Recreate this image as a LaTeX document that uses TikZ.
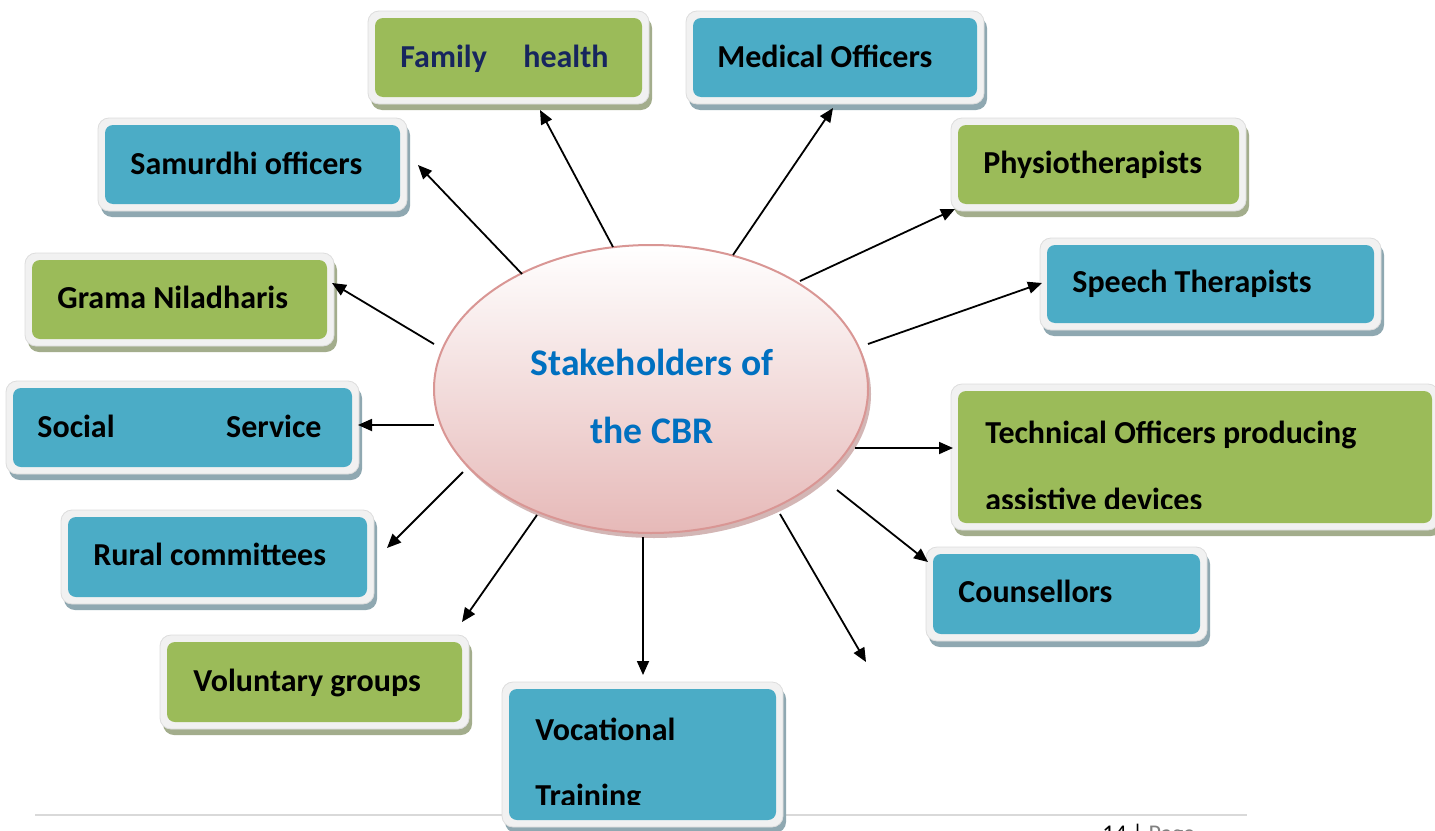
\documentclass[tikz,border=0pt]{standalone}
\usepackage{fontspec}
\setmainfont{Carlito}
\usetikzlibrary{fit,arrows.meta,shadows,calc,shapes.geometric}
\definecolor{grn}{HTML}{9BBB59}
\definecolor{blu}{HTML}{4BACC6}
\definecolor{grnsh}{HTML}{A3AD8C}
\definecolor{blush}{HTML}{8FA8B1}
\definecolor{rim}{HTML}{F1F1F1}
\definecolor{rimedge}{HTML}{DDDDDD}
\definecolor{navy}{HTML}{17255E}
\definecolor{cbrblue}{HTML}{0070C0}
\definecolor{pinkb}{HTML}{D99694}
\definecolor{pinkf}{HTML}{E6B9B8}
\definecolor{pinksh}{HTML}{C9A4A3}
\definecolor{rule}{HTML}{D9D9D9}
\newcommand\stkbox[7]{%
  \fill[#7, rounded corners=5.5pt] ({#2-7+3},{#3-7+6}) rectangle ({#4+7+3},{#5+7+6});
  \filldraw[fill=rim, draw=rimedge, line width=0.4pt, rounded corners=5.5pt] ({#2-7},{#3-7}) rectangle ({#4+7},{#5+7});
  \node[fit={(#2,#3) (#4,#5)}, inner sep=0pt, fill=#6, rounded corners=4pt] (#1) {};
}
\tikzset{
  lbl/.style={anchor=base west, inner sep=0pt, font=\bfseries\fontsize{16pt}{19pt}\selectfont},
  arr/.style={line width=0.9pt, -{Triangle[length=7pt,width=6pt]}},
}
\begin{document}
\begin{tikzpicture}[x=0.5pt,y=-0.5pt]
\clip (0,0) rectangle (1435,830);
\fill[white] (0,0) rectangle (1435,830);
% bottom rule
\coordinate (ruleL) at (35,815);
\coordinate (ruleR) at (1247,815);
\draw[rule, line width=1pt] (ruleL) -- (ruleR);
\node[anchor=base west, inner sep=0pt, font=\fontsize{12pt}{14pt}\selectfont] (pg) at (1102,841) {14 | \textcolor{gray}{Page}};

% boxes
\stkbox{fam}{375}{18}{642}{97}{grn}{grnsh}
\stkbox{med}{693}{18}{977}{97}{blu}{blush}
\stkbox{sam}{105}{125}{400}{204}{blu}{blush}
\stkbox{phy}{958}{125}{1239}{204}{grn}{grnsh}
\stkbox{gra}{32}{260}{327}{339}{grn}{grnsh}
\stkbox{spe}{1047}{245}{1374}{323}{blu}{blush}
\stkbox{soc}{13}{388}{352}{467}{blu}{blush}
\stkbox{tec}{958}{391}{1432}{523}{grn}{grnsh}
\stkbox{rur}{68}{517}{367}{597}{blu}{blush}
\stkbox{cou}{933}{554}{1200}{634}{blu}{blush}
\stkbox{vol}{167}{642}{462}{722}{grn}{grnsh}
\stkbox{voc}{509}{689}{776}{820}{blu}{blush}

% labels
\node[lbl, text=navy] (famA) at (400,67) {Family};
\node[lbl, text=navy] (famB) at (523,67) {health};
\node[lbl] (medT) at (717,67) {Medical Officers};
\node[lbl] (samT) at (130,174) {Samurdhi officers};
\node[lbl] (phyT) at (983,173) {Physiotherapists};
\node[lbl] (graT) at (57,308) {Grama Niladharis};
\node[lbl] (speT) at (1072,292) {Speech Therapists};
\node[lbl] (socA) at (37,437) {Social};
\node[lbl, anchor=base east] (socB) at (322,437) {Service};
\node[lbl] (tecA) at (985,443) {Technical Officers producing};
\begin{scope}
\clip (958,391) rectangle (1432,508);
\node[lbl] (tecB) at (985,510) {assistive devices};
\end{scope}
\node[lbl] (rurT) at (93,565) {Rural committees};
\node[lbl] (couT) at (958,602) {Counsellors};
\node[lbl] (volT) at (193,691) {Voluntary groups};
\node[lbl] (vocA) at (535,740) {Vocational};
\begin{scope}
\clip (509,689) rectangle (776,804);
\node[lbl] (vocB) at (535,806) {Training};
\end{scope}

% central ellipse
\node[ellipse, minimum width=217pt, minimum height=144pt, inner sep=0pt,
      draw=pinkb, line width=1pt, top color=white, bottom color=pinkf,
      drop shadow={shadow xshift=1.5pt, shadow yshift=-2.5pt, fill=pinksh, opacity=0.8}] (cbr) at (651,389) {};
\node[anchor=base, inner sep=0pt, text=cbrblue, font=\bfseries\fontsize{18.8pt}{22pt}\selectfont] (cbrA) at (652,375) {Stakeholders of};
\node[anchor=base, inner sep=0pt, text=cbrblue, font=\bfseries\fontsize{18.8pt}{22pt}\selectfont] (cbrB) at (652,443) {the CBR};

% connector end points
\coordinate (s1) at (613,247); \coordinate (t1) at (540,110);
\coordinate (s2) at (733,255); \coordinate (t2) at (833,108);
\coordinate (s3) at (522,274); \coordinate (t3) at (418,165);
\coordinate (s4) at (800,281); \coordinate (t4) at (955,209);
\coordinate (s5) at (434,344); \coordinate (t5) at (332,283);
\coordinate (s6) at (868,344); \coordinate (t6) at (1042,283);
\coordinate (s7) at (434,425); \coordinate (t7) at (358,425);
\coordinate (s8) at (855,448); \coordinate (t8) at (953,448);
\coordinate (s9) at (463,472); \coordinate (t9) at (387,548);
\coordinate (s10) at (837,490); \coordinate (t10) at (928,562);
\coordinate (s11) at (537,515); \coordinate (t11) at (462,622);
\coordinate (s12) at (643,537); \coordinate (t12) at (643,675);
\coordinate (s13) at (780,514); \coordinate (t13) at (866,662);
\foreach \i in {1,...,13} { \draw[arr] (s\i) -- (t\i); }
\end{tikzpicture}
\end{document}
